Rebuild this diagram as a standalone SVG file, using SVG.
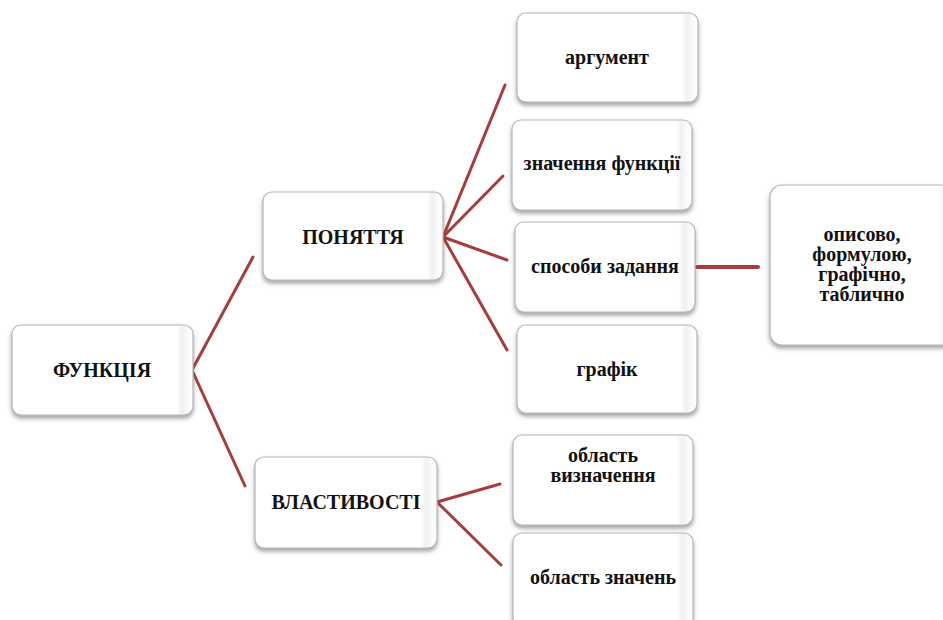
<svg xmlns="http://www.w3.org/2000/svg" width="943" height="620" viewBox="0 0 943 620">
<defs>
<filter id="sh" x="-10%" y="-10%" width="125%" height="130%">
<feDropShadow dx="0" dy="3" stdDeviation="2" flood-color="#555" flood-opacity="0.55"/>
</filter>
<linearGradient id="edge" x1="0" y1="0" x2="1" y2="0">
<stop offset="0" stop-color="#ffffff"/>
<stop offset="0.91" stop-color="#ffffff"/>
<stop offset="0.94" stop-color="#f0f0f0"/>
<stop offset="0.97" stop-color="#fafafa"/>
<stop offset="1" stop-color="#ffffff"/>
</linearGradient>
</defs>
<style>
.box{fill:url(#edge);stroke:#b5b5b5;stroke-width:1.2;filter:url(#sh)}
.t{font-family:"Liberation Serif","Times New Roman",serif;font-weight:bold;font-size:20px;fill:#111;text-anchor:middle}
.c{fill:none;stroke:#A83C3C;stroke-width:3;stroke-linecap:round;stroke-linejoin:round}
</style>
<rect width="943" height="620" fill="#ffffff"/>
<g id="connectors">
<polyline class="c" points="253,257 192,370 245,486"/>
<line class="c" x1="443" y1="237" x2="505" y2="85"/>
<line class="c" x1="443" y1="237" x2="503" y2="176"/>
<line class="c" x1="443" y1="237" x2="507" y2="260"/>
<line class="c" x1="443" y1="237" x2="507" y2="350"/>
<line class="c" x1="437" y1="502" x2="500" y2="484"/>
<line class="c" x1="437" y1="502" x2="501" y2="565"/>
<line class="c" x1="697" y1="267" x2="758" y2="267" style="stroke-width:4"/>
</g>
<g id="n-function">
<rect class="box" x="12" y="325" width="181" height="90" rx="9"/>
<text class="t" x="102" y="377">ФУНКЦІЯ</text>
</g>
<g id="n-concept">
<rect class="box" x="263" y="192" width="180" height="88" rx="9"/>
<text class="t" x="353" y="244">ПОНЯТТЯ</text>
</g>
<g id="n-properties">
<rect class="box" x="255" y="457" width="182" height="91" rx="9"/>
<text class="t" x="346" y="509">ВЛАСТИВОСТІ</text>
</g>
<g id="n-argument">
<rect class="box" x="517" y="13" width="181" height="89" rx="9"/>
<text class="t" x="607" y="64">аргумент</text>
</g>
<g id="n-value">
<rect class="box" x="512" y="120" width="180" height="90" rx="9"/>
<text class="t" x="602" y="170">значення функції</text>
</g>
<g id="n-ways">
<rect class="box" x="515" y="222" width="180" height="90" rx="9"/>
<text class="t" x="605" y="273">способи задання</text>
</g>
<g id="n-graph">
<rect class="box" x="517" y="325" width="180" height="88" rx="9"/>
<text class="t" x="607" y="376">графік</text>
</g>
<g id="n-methods">
<rect class="box" x="770" y="185" width="185" height="160" rx="12"/>
<text class="t" x="862" y="241">описово,</text>
<text class="t" x="862" y="261">формулою,</text>
<text class="t" x="862" y="281">графічно,</text>
<text class="t" x="862" y="301">таблично</text>
</g>
<g id="n-domain">
<rect class="box" x="513" y="435" width="180" height="90" rx="9"/>
<text class="t" x="603" y="462">область</text>
<text class="t" x="603" y="482">визначення</text>
</g>
<g id="n-range">
<rect class="box" x="513" y="533" width="180" height="95" rx="9"/>
<text class="t" x="603" y="584">область значень</text>
</g>
</svg>
